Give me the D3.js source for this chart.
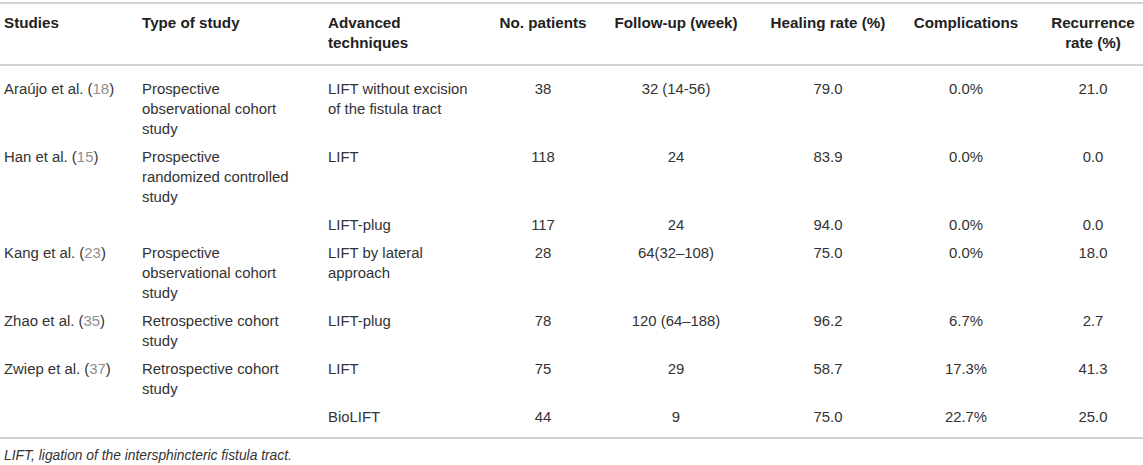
<!DOCTYPE html>
<html>
<head>
<meta charset="utf-8">
<script src="https://cdn.jsdelivr.net/npm/d3@7"></script>
<style>
  body { margin: 0; background: #fff; }
  svg { display: block; font-family: "Liberation Sans", Arial, Helvetica, sans-serif; }
</style>
</head>
<body>
<div id="table"></div>
<script>
// table content
var headers = ['Studies', 'Type of study', 'Advanced\ntechniques', 'No. patients',
  'Follow-up (week)', 'Healing rate (%)', 'Complications', 'Recurrence\nrate (%)'];
var studies = ['Araújo et al.', 'Han et al.', '', 'Kang et al.', 'Zhao et al.', 'Zwiep et al.', ''];
var refs = ['18', '15', '', '23', '35', '37', ''];
var studyTypes = ['Prospective\nobservational cohort\nstudy', 'Prospective\nrandomized controlled\nstudy', '',
  'Prospective\nobservational cohort\nstudy', 'Retrospective cohort\nstudy', 'Retrospective cohort\nstudy', ''];
var techniques = ['LIFT without excision\nof the fistula tract', 'LIFT', 'LIFT-plug', 'LIFT by lateral\napproach',
  'LIFT-plug', 'LIFT', 'BioLIFT'];
var patients = [38, 118, 117, 28, 78, 75, 44];
var followUp = ['32 (14-56)', '24', '24', '64(32–108)', '120 (64–188)', '29', '9'];
var healing = [79.0, 83.9, 94.0, 75.0, 96.2, 58.7, 75.0];
var complications = [0.0, 0.0, 0.0, 0.0, 6.7, 17.3, 22.7];
var recurrence = [21.0, 0.0, 0.0, 18.0, 2.7, 41.3, 25.0];
var footnote = 'LIFT, ligation of the intersphincteric fistula tract.';

var width = 1143,
  height = 465,
  lineH = 20,
  rowGap = 28,
  firstRow = 89,
  fmt1 = d3.format('.1f');

var cols = d3.range(headers.length);
var colX = d3.scaleOrdinal().domain(cols).range([4, 142, 328, 543, 676, 828, 966, 1093]);
var colAnchor = d3.scaleOrdinal().domain(cols)
  .range(['start', 'start', 'start', 'middle', 'middle', 'middle', 'middle', 'middle']);

var rows = patients.map(function (p, i) {
  return [
    { study: studies[i], ref: refs[i] },
    studyTypes[i],
    techniques[i],
    String(p),
    followUp[i],
    fmt1(healing[i]),
    fmt1(complications[i]) + '%',
    fmt1(recurrence[i])
  ];
});

// row positions from number of lines in the tallest cell
var lineCount = function (r) {
  return d3.max(r, function (c) { return typeof c === 'string' ? c.split('\n').length : 1; });
};
var rowY = [];
rows.reduce(function (y, r) {
  rowY.push(y);
  return y + (lineCount(r) - 1) * lineH + rowGap;
}, firstRow);

var svg = d3.select('#table').append('svg')
  .attr('width', width)
  .attr('height', height);

var ruleYs = [3, 65, rowY[rowY.length - 1] + 21];
svg.selectAll('line.rule')
  .data(ruleYs)
  .enter()
  .append('line')
  .attr('class', 'rule')
  .attr('x1', 0)
  .attr('x2', width)
  .attr('y1', function (d) { return d; })
  .attr('y2', function (d) { return d; })
  .attr('stroke', '#c2c2c2')
  .attr('stroke-width', 1.6);

function cellText(g, str, x, y, anchor) {
  var t = g.append('text')
    .attr('x', x)
    .attr('y', y)
    .attr('text-anchor', anchor);
  t.selectAll('tspan')
    .data(str.split('\n'))
    .enter()
    .append('tspan')
    .attr('x', x)
    .attr('y', function (d, i) { return y + i * lineH; })
    .attr('dy', '0.35em')
    .text(function (d) { return d; });
  return t;
}

// header
var head = svg.append('g')
  .attr('font-weight', 'bold')
  .attr('font-size', 15.2)
  .attr('fill', '#222');
headers.forEach(function (h, i) {
  cellText(head, h, colX(i), 23, colAnchor(i));
});

// body
var body = svg.append('g')
  .attr('font-size', 14.9)
  .attr('fill', '#333');
rows.forEach(function (r, ri) {
  r.forEach(function (c, ci) {
    if (ci === 0) {
      if (!c.study) return;
      var t = body.append('text')
        .attr('x', colX(0))
        .attr('y', rowY[ri])
        .attr('dy', '0.35em');
      t.append('tspan').text(c.study + ' (');
      t.append('tspan').attr('fill', '#8e8e8e').text(c.ref);
      t.append('tspan').text(')');
      return;
    }
    if (!c) return;
    cellText(body, c, colX(ci), rowY[ri], colAnchor(ci));
  });
});

svg.append('text')
  .attr('x', 4)
  .attr('y', ruleYs[2] + 17)
  .attr('dy', '0.35em')
  .attr('font-size', 13.8)
  .attr('font-style', 'italic')
  .attr('fill', '#333')
  .text(footnote);
</script>
</body>
</html>
